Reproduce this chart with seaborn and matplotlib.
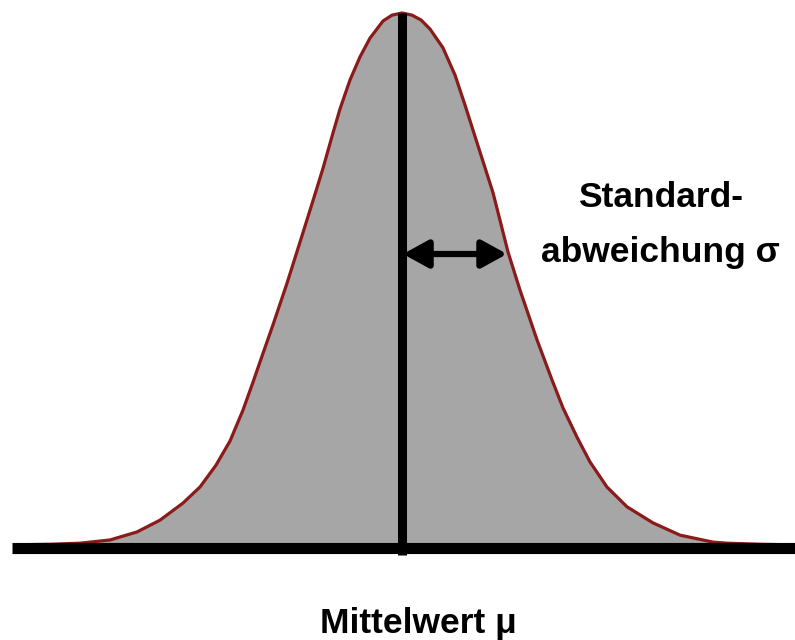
import matplotlib
matplotlib.use("Agg")
import matplotlib.pyplot as plt
import seaborn as sns
import pandas as pd

# Curve: offset from the mean (in units of sigma) and relative height
x_sigma = [-3.686, -3.352, -3.067, -2.781, -2.524, -2.305, -2.086, -1.924, -1.771, -1.638,
           -1.514, -1.419, -1.352, -1.229, -1.095, -0.971, -0.848, -0.752, -0.657, -0.590,
           -0.495, -0.400, -0.305, -0.181, -0.095, 0.000,
           0.095, 0.181, 0.267, 0.390, 0.505, 0.600, 0.743, 0.867, 1.010, 1.124,
           1.286, 1.429, 1.533, 1.667, 1.790, 1.952, 2.143, 2.390, 2.648, 2.962,
           3.095, 3.410, 3.695]
height = [0.006, 0.007, 0.009, 0.015, 0.030, 0.052, 0.084, 0.114, 0.155, 0.200,
          0.258, 0.310, 0.348, 0.417, 0.495, 0.572, 0.649, 0.710, 0.776, 0.821,
          0.875, 0.918, 0.953, 0.985, 0.996, 1.000,
          0.996, 0.987, 0.970, 0.935, 0.884, 0.828, 0.740, 0.664, 0.553, 0.482,
          0.389, 0.314, 0.262, 0.207, 0.161, 0.114, 0.077, 0.047, 0.024, 0.011,
          0.009, 0.007, 0.006]

mean_label = "Mittelwert μ"
sd_label_1 = "Standard-"
sd_label_2 = "abweichung σ"
mean_x = 0.0
sigma = 1.0

df = pd.DataFrame({"x": x_sigma, "h": height})

sns.set_theme(style="white")
plt.rcParams["font.family"] = ["Liberation Sans", "DejaVu Sans"]

fig = plt.figure(figsize=(7.95, 6.4), dpi=100)
ax = fig.add_axes([0, 0, 1, 1])

ax.fill_between(df["x"], 0, df["h"], color="#a6a6a6", lw=0, zorder=1)
sns.lineplot(data=df, x="x", y="h", ax=ax, color="#8b1a1a", lw=2.3, zorder=2,
             solid_joinstyle="round", solid_capstyle="round")

# baseline
ax.plot([-3.71, 3.80], [0, 0], color="black", lw=8.0, solid_capstyle="butt", zorder=3)
# mean line
ax.plot([mean_x, mean_x], [-0.013, 1.0], color="black", lw=6.5, solid_capstyle="butt", zorder=3)

# sigma arrow
ax.annotate("", xy=(mean_x + sigma, 0.5495), xytext=(mean_x + 0.01, 0.5495),
            arrowprops=dict(arrowstyle="<|-|>,head_length=0.4,head_width=0.22",
                            mutation_scale=38, lw=4.5, color="black",
                            shrinkA=0, shrinkB=0), zorder=4)

ax.text(2.462, 0.637, sd_label_1, ha="center", va="baseline",
        fontsize=25.5, fontweight="bold", color="black")
ax.text(2.457, 0.535, sd_label_2, ha="center", va="baseline",
        fontsize=25.5, fontweight="bold", color="black")
ax.text(0.152, -0.159, mean_label, ha="center", va="baseline",
        fontsize=25.5, fontweight="bold", color="black")

ax.set_xlim(-402 / 105, 393 / 105)
ax.set_ylim(-92 / 535, 548 / 535)
ax.set_axis_off()

fig.savefig("out.png", dpi=100)
